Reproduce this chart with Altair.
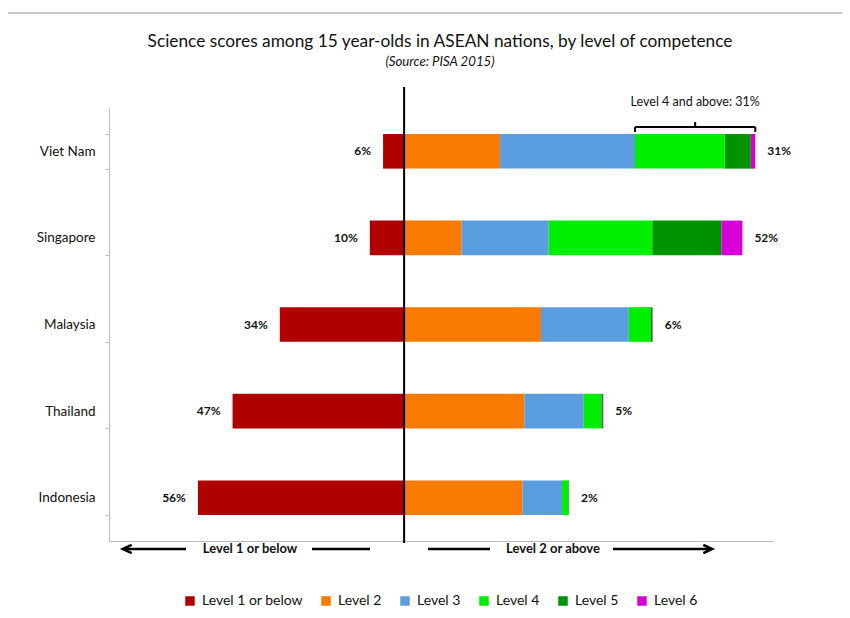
import altair as alt
import pandas as pd

# ---------------- data ----------------
countries = ["Viet Nam", "Singapore", "Malaysia", "Thailand", "Indonesia"]
levels = ["Level 1 or below", "Level 2", "Level 3", "Level 4", "Level 5", "Level 6"]
colors = ["#b00000", "#f77b00", "#5b9ee0", "#00ee00", "#009300", "#d700d7"]

level1 = [5.7, 9.3, 33.7, 46.5, 55.9]
level2 = [26.0, 15.6, 37.1, 32.6, 32.1]
level3 = [36.6, 23.6, 23.8, 16.1, 10.7]
level4 = [24.3, 28.1, 5.9, 4.8, 1.8]
level5 = [7.1, 18.7, 0.5, 0.4, 0.1]
level6 = [1.2, 5.7, 0.1, 0.1, 0.0]

left_labels = ["6%", "10%", "34%", "47%", "56%"]
right_labels = ["31%", "52%", "6%", "5%", "2%"]

title_text = "Science scores among 15 year-olds in ASEAN nations, by level of competence"
subtitle_text = "(Source: PISA 2015)"
bracket_text = "Level 4 and above: 31%"
left_dir_text = "Level 1 or below"
right_dir_text = "Level 2 or above"

FONT = "Lato"

# ---------------- build tables ----------------
series = [level1, level2, level3, level4, level5, level6]
rows = []
for i, c in enumerate(countries):
    rows.append({"country": c, "level": levels[0], "order": 0,
                 "start": -level1[i], "end": 0.0, "value": level1[i]})
    cum = 0.0
    for j in range(1, 6):
        v = series[j][i]
        rows.append({"country": c, "level": levels[j], "order": j,
                     "start": cum, "end": cum + v, "value": v})
        cum += v
bars_df = pd.DataFrame(rows)

lab_rows = []
for i, c in enumerate(countries):
    right_total = sum(series[j][i] for j in range(1, 6))
    lab_rows.append({"country": c, "lx": -level1[i], "rx": right_total,
                     "ltext": left_labels[i], "rtext": right_labels[i]})
lab_df = pd.DataFrame(lab_rows)

vn = 0
br_start = level2[vn] + level3[vn]
br_end = br_start + level4[vn] + level5[vn] + level6[vn]
br_df = pd.DataFrame({"s": [br_start], "e": [br_end], "m": [(br_start + br_end) / 2]})

one = pd.DataFrame({"a": [0]})

xscale = alt.Scale(domain=[-80, 100], nice=False, zero=False)
yscale = alt.Scale(domain=countries, paddingInner=0.6, paddingOuter=0.3)

# ---------------- bars ----------------
bars = alt.Chart(bars_df).mark_bar(cornerRadius=0).encode(
    y=alt.Y("country:N", scale=yscale, sort=countries,
            axis=alt.Axis(title=None, domainColor="#bbbbbb", tickColor="#bbbbbb",
                          tickBand="extent", tickSize=4, labelFontSize=13.5,
                          labelColor="#111111", labelPadding=10, labelFont=FONT)),
    x=alt.X("start:Q", scale=xscale,
            axis=alt.Axis(title=None, labels=False, ticks=False, grid=False,
                          domainColor="#bbbbbb")),
    x2="end:Q",
    color=alt.Color("level:N", sort=levels,
                    scale=alt.Scale(domain=levels, range=colors),
                    legend=alt.Legend(title=None, orient="none", direction="horizontal",
                                      columns=6, legendX=74, legendY=486,
                                      symbolType="square", symbolSize=90,
                                      symbolStrokeWidth=0, labelFontSize=14,
                                      labelFont=FONT, labelColor="#111111",
                                      columnPadding=16, labelOffset=5)),
    order=alt.Order("order:Q"),
)

left_txt = alt.Chart(lab_df).mark_text(align="right", baseline="middle", dx=-12,
                                       fontWeight="bold", fontSize=12, font=FONT,
                                       color="#111111").encode(
    y=alt.Y("country:N", scale=yscale, sort=countries),
    x=alt.X("lx:Q", scale=xscale),
    text="ltext:N",
)
right_txt = alt.Chart(lab_df).mark_text(align="left", baseline="middle", dx=12,
                                        fontWeight="bold", fontSize=12, font=FONT,
                                        color="#111111").encode(
    y=alt.Y("country:N", scale=yscale, sort=countries),
    x=alt.X("rx:Q", scale=xscale),
    text="rtext:N",
)

# center line
center = alt.Chart(one).mark_rule(color="black", strokeWidth=2).encode(
    x=alt.datum(0, scale=xscale), y=alt.value(-21), y2=alt.value(435))

# bracket annotation
br_h = alt.Chart(br_df).mark_rule(color="black", strokeWidth=2).encode(
    x=alt.X("s:Q", scale=xscale), x2="e:Q", y=alt.value(19))
br_l = alt.Chart(br_df).mark_rule(color="black", strokeWidth=2).encode(
    x=alt.X("s:Q", scale=xscale), y=alt.value(19), y2=alt.value(24))
br_r = alt.Chart(br_df).mark_rule(color="black", strokeWidth=2).encode(
    x=alt.X("e:Q", scale=xscale), y=alt.value(19), y2=alt.value(24))
br_m = alt.Chart(br_df).mark_rule(color="black", strokeWidth=2).encode(
    x=alt.X("m:Q", scale=xscale), y=alt.value(14), y2=alt.value(19))
br_t = alt.Chart(br_df).mark_text(fontSize=12.5, font=FONT, color="#111111",
                                  baseline="middle").encode(
    x=alt.X("m:Q", scale=xscale), y=alt.value(-6), text=alt.value(bracket_text))

# titles
title = alt.Chart(one).mark_text(fontSize=17.3, font=FONT, color="#111111",
                                 baseline="middle").encode(
    x=alt.value(331), y=alt.value(-66), text=alt.value(title_text))
subtitle = alt.Chart(one).mark_text(fontSize=13.2, font=FONT, fontStyle="italic",
                                    color="#111111", baseline="middle").encode(
    x=alt.value(331), y=alt.value(-46), text=alt.value(subtitle_text))

# thin grey frame line at the very top
topline = alt.Chart(one).mark_rule(color="#c8c8c8", strokeWidth=2).encode(
    x=alt.value(-101), x2=alt.value(741), y=alt.value(-95))

# direction arrows below the axis
AY = 441
dir_l = alt.Chart(one).mark_text(fontSize=13, font=FONT, fontWeight="bold",
                                 color="#111111", baseline="middle").encode(
    x=alt.value(141), y=alt.value(AY), text=alt.value(left_dir_text))
dir_r = alt.Chart(one).mark_text(fontSize=13, font=FONT, fontWeight="bold",
                                 color="#111111", baseline="middle").encode(
    x=alt.value(444), y=alt.value(AY), text=alt.value(right_dir_text))
line_style = dict(color="black", strokeWidth=2.5)
l1 = alt.Chart(one).mark_rule(**line_style).encode(
    x=alt.value(14), x2=alt.value(77), y=alt.value(AY))
l2 = alt.Chart(one).mark_rule(**line_style).encode(
    x=alt.value(203), x2=alt.value(261), y=alt.value(AY))
l3 = alt.Chart(one).mark_rule(**line_style).encode(
    x=alt.value(319), x2=alt.value(381), y=alt.value(AY))
l4 = alt.Chart(one).mark_rule(**line_style).encode(
    x=alt.value(504), x2=alt.value(601), y=alt.value(AY))
head_l = alt.Chart(one).mark_point(shape="M0.7,-0.8L-1,0L0.7,0.8", filled=False,
                                   stroke="black", strokeWidth=2.5, size=110,
                                   opacity=1).encode(
    x=alt.value(19), y=alt.value(AY))
head_r = alt.Chart(one).mark_point(shape="M-0.7,-0.8L1,0L-0.7,0.8", filled=False,
                                   stroke="black", strokeWidth=2.5, size=110,
                                   opacity=1).encode(
    x=alt.value(598), y=alt.value(AY))

chart = alt.layer(
    bars, left_txt, right_txt, center, br_h, br_l, br_r, br_m, br_t,
    title, subtitle, topline, dir_l, dir_r, l1, l2, l3, l4, head_l, head_r,
).properties(
    width=664, height=433,
    autosize=alt.AutoSizeParams(type="none"),
    padding={"left": 101, "top": 100, "right": 69, "bottom": 70},
).configure(
    font=FONT,
    view=alt.ViewConfig(stroke="transparent", strokeWidth=0),
)

chart.save("out.html", embed_options={"renderer": "svg", "actions": False})
